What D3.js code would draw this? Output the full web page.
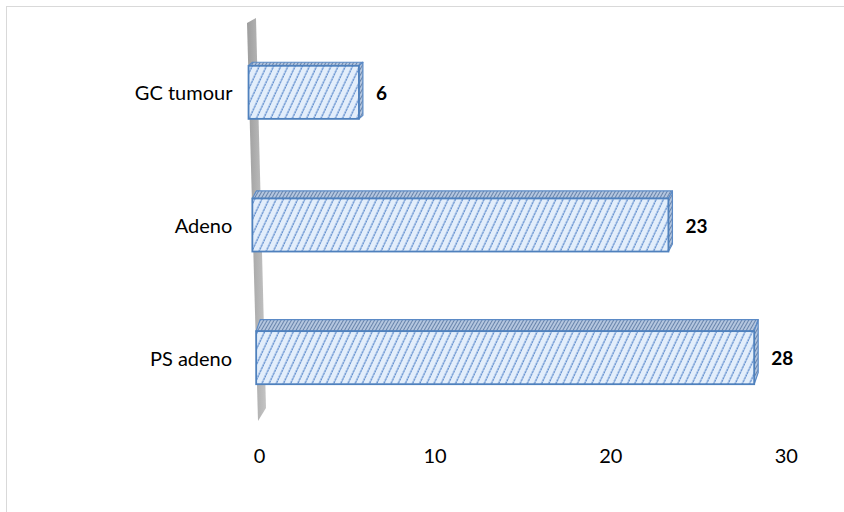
<!DOCTYPE html>
<html>
<head>
<meta charset="utf-8">
<script src="https://cdn.jsdelivr.net/npm/d3@7"></script>
<style>
  html, body { margin: 0; padding: 0; background: #ffffff; }
  svg { display: block; }
</style>
</head>
<body>
<script>
// ---- data ----
const categories = ["GC tumour", "Adeno", "PS adeno"];
const values = [6, 23, 28];
const tickValues = [0, 10, 20, 30];

// ---- layout ----
const W = 844, H = 512;
const FONT = "Lato, 'Open Sans', sans-serif";
const svg = d3.select("body").append("svg").attr("width", W).attr("height", H);
const defs = svg.append("defs");

// front hatch
const pf = defs.append("pattern").attr("id", "hatchFront")
  .attr("patternUnits", "userSpaceOnUse").attr("width", 6.5).attr("height", 6)
  .attr("patternTransform", "rotate(25)");
pf.append("rect").attr("width", 6.5).attr("height", 6).attr("fill", "#e3eefb");
pf.append("line").attr("x1", 3).attr("y1", 0).attr("x2", 3).attr("y2", 6)
  .attr("stroke", "#6592d0").attr("stroke-width", 1.4).attr("stroke-dasharray", "2.6 0.4");

// top/side hatch (denser, darker)
const pt = defs.append("pattern").attr("id", "hatchTop")
  .attr("patternUnits", "userSpaceOnUse").attr("width", 3).attr("height", 3)
  .attr("patternTransform", "rotate(30)");
pt.append("rect").attr("width", 3).attr("height", 3).attr("fill", "#b4c6df");
pt.append("line").attr("x1", 1.5).attr("y1", 0).attr("x2", 1.5).attr("y2", 3)
  .attr("stroke", "#6884ab").attr("stroke-width", 1);

const wallGrad = defs.append("linearGradient").attr("id", "wallGrad")
  .attr("x1", "0%").attr("x2", "100%").attr("y1", "0%").attr("y2", "0%");
wallGrad.append("stop").attr("offset", "0%").attr("stop-color", "#9d9d9d");
wallGrad.append("stop").attr("offset", "100%").attr("stop-color", "#c4c4c4");

// chart border (only top/left edges visible)
svg.append("rect").attr("x", 6.5).attr("y", 6.5).attr("width", 900).attr("height", 600)
  .attr("fill", "none").attr("stroke", "#d9d9d9").attr("stroke-width", 1);

// category band scale (vertical)
const yBand = d3.scaleBand().domain(categories).range([26, 424])
  .paddingInner(0.6).paddingOuter(0.3);

// perspective: origin x and px-per-unit depend on vertical position
const originAt = d3.scaleLinear().domain([91, 456]).range([248.5, 259]);
const unitAt = d3.scaleLinear().domain([225, 356]).range([18.09, 17.79]);
const depthAt = d3.scaleLinear().domain([91, 356]).range([3.5, 11.5]);
const labelGapAt = d3.scaleLinear().domain([91, 356]).range([16, 24]);
const rowScale = y => d3.scaleLinear().domain([0, 30])
  .range([originAt(y), originAt(y) + 30 * unitAt(y)]);

// wall (gray slanted strip)
svg.append("path")
  .attr("d", "M247,23 L256,18 L266,408 L258,421 Z")
  .attr("fill", "url(#wallGrad)");

// bars
const rows = categories.map((c, i) => {
  const y0 = yBand(c), h = yBand.bandwidth(), cy = y0 + h / 2;
  return { c, v: values[i], y0, h, cy, sx: rowScale(cy), d: depthAt(cy) };
});

const g = svg.append("g");
rows.forEach(r => {
  const x0 = r.sx(0), x1 = r.sx(r.v);
  const dx = 4, dy = r.d;
  const y0 = r.y0, y1 = r.y0 + r.h;
  // top face
  g.append("path")
    .attr("d", `M${x0},${y0} L${x0 + dx},${y0 - dy} L${x1 + dx},${y0 - dy} L${x1},${y0} Z`)
    .attr("fill", "url(#hatchTop)").attr("stroke", "#5b8ac6").attr("stroke-width", 1.2)
    .attr("stroke-linejoin", "round");
  // side face
  g.append("path")
    .attr("d", `M${x1},${y0} L${x1 + dx},${y0 - dy} L${x1 + dx},${y1 - dy} L${x1},${y1} Z`)
    .attr("fill", "url(#hatchTop)").attr("stroke", "#5b8ac6").attr("stroke-width", 1.2)
    .attr("stroke-linejoin", "round");
  // front face
  g.append("rect").attr("x", x0).attr("y", y0).attr("width", x1 - x0).attr("height", r.h)
    .attr("fill", "url(#hatchFront)").attr("stroke", "#4f81bd").attr("stroke-width", 1.8);
  // value label
  g.append("text").attr("x", x1 + dx + 13).attr("y", r.cy + 1).attr("dy", "0.35em")
    .attr("font-family", FONT).attr("font-weight", "bold")
    .attr("font-size", 19).attr("fill", "#000").text(r.v);
  // category label
  g.append("text").attr("x", r.sx(0) - labelGapAt(r.cy)).attr("y", r.cy + 1).attr("dy", "0.35em")
    .attr("text-anchor", "end")
    .attr("font-family", FONT)
    .attr("font-size", 20).attr("fill", "#000").text(r.c);
});

// value axis (bottom)
const axisY = 456;
const axisScale = rowScale(axisY);
const ax = svg.append("g").attr("transform", `translate(0,${axisY - 7})`)
  .call(d3.axisBottom(axisScale).tickValues(tickValues).tickSize(0).tickPadding(0));
ax.select(".domain").remove();
ax.selectAll("text").attr("font-family", FONT)
  .attr("font-size", 20).attr("fill", "#000");
</script>
</body>
</html>
